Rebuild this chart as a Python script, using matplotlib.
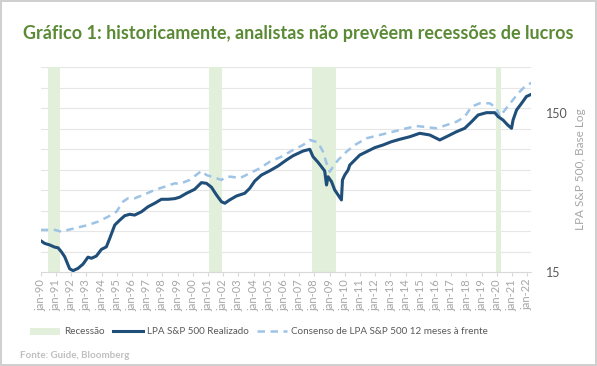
import matplotlib
matplotlib.use("Agg")
import matplotlib.pyplot as plt
from matplotlib.patches import Patch
from matplotlib.lines import Line2D
import numpy as np

plt.rcParams["font.family"] = ["Lato", "DejaVu Sans"]

# recessions (start, end) in decimal years
recessions = [(1990.5, 1991.25), (2001.05, 2001.9), (2007.85, 2009.45), (2019.95, 2020.27)]

# realized EPS (LPA S&P 500 Realizado)
real_x = [1990.0, 1990.26, 1990.59, 1990.92, 1991.14, 1991.36, 1991.58, 1991.80, 1991.91, 1992.13,
          1992.45, 1992.78, 1993.11, 1993.34, 1993.66, 1993.99, 1994.32, 1994.54, 1994.87, 1995.20,
          1995.53, 1995.86, 1996.18, 1996.63, 1997.06, 1997.50, 1997.94, 1998.38, 1998.82, 1999.14,
          1999.59, 2000.13, 2000.57, 2000.90, 2001.23, 2001.56, 2001.89, 2002.11, 2002.43, 2002.88,
          2003.42, 2003.75, 2004.08, 2004.52, 2005.07, 2005.61, 2006.16, 2006.60, 2007.26, 2007.70,
          2007.91, 2008.24, 2008.47, 2008.68, 2008.80, 2008.90, 2009.13, 2009.34, 2009.56, 2009.78,
          2009.85, 2010.0, 2010.22, 2010.33, 2010.66, 2010.99, 2011.43, 2011.97, 2012.52, 2013.07,
          2013.62, 2014.28, 2014.93, 2015.59, 2016.25, 2016.69, 2017.35, 2017.89, 2018.34, 2018.77,
          2019.32, 2019.87, 2020.09, 2020.41, 2020.72, 2020.97, 2021.07, 2021.30, 2021.63, 2021.95,
          2022.24]
real_y = [23.6, 22.7, 22.2, 21.5, 21.3, 20.1, 18.7, 16.6, 15.7, 15.3,
          15.8, 16.8, 18.6, 18.3, 18.9, 20.8, 21.6, 24.4, 29.6, 31.8,
          33.9, 34.6, 34.2, 35.9, 38.6, 40.6, 43.0, 43.0, 43.4, 44.3,
          46.9, 49.7, 54.7, 54.2, 51.2, 45.8, 41.5, 40.6, 42.6, 45.1,
          46.9, 50.4, 56.0, 61.1, 65.0, 69.6, 75.9, 80.8, 86.5, 88.7,
          79.7, 73.5, 68.9, 64.8, 52.9, 59.6, 55.5, 49.2, 45.8, 42.6,
          56.9, 61.1, 65.7, 70.6, 75.9, 81.6, 85.6, 90.8, 94.4, 99.0,
          102.5, 106.4, 111.8, 109.1, 101.5, 106.4, 114.4, 120.2, 132.2, 145.7,
          150.7, 150.7, 142.2, 135.5, 126.0, 120.2, 135.5, 156.6, 172.6, 190.5,
          196.0]

# 12m forward consensus
cons_x = [1990.0, 1990.48, 1990.92, 1991.36, 1991.80, 1992.45, 1993.11, 1993.77, 1994.43, 1994.98,
          1995.41, 1995.74, 1996.18, 1996.84, 1997.50, 1998.16, 1998.82, 1999.14, 1999.80, 2000.57,
          2000.90, 2001.56, 2001.89, 2002.22, 2002.55, 2003.09, 2003.75, 2004.41, 2005.07, 2005.84,
          2006.60, 2007.26, 2007.70, 2008.24, 2008.57, 2008.80, 2009.01, 2009.23, 2009.56, 2010.11,
          2010.66, 2011.43, 2012.30, 2013.18, 2014.06, 2014.72, 2015.15, 2016.03, 2016.69, 2017.35,
          2017.89, 2018.34, 2018.88, 2019.54, 2019.98, 2020.20, 2020.53, 2020.97, 2021.40, 2021.84,
          2022.28]
cons_y = [27.6, 27.6, 27.6, 26.9, 27.6, 28.6, 29.6, 31.1, 33.4, 35.9,
          41.5, 43.6, 43.6, 46.2, 49.2, 51.6, 54.2, 53.7, 56.9, 64.8,
          61.1, 58.3, 56.9, 59.6, 59.6, 58.3, 62.7, 67.3, 74.1, 79.7,
          87.8, 94.4, 101.5, 98.1, 85.6, 72.4, 64.1, 68.9, 75.9, 85.6,
          94.4, 104.0, 109.1, 114.4, 120.2, 124.2, 123.0, 120.2, 126.0, 132.2,
          142.2, 164.4, 172.6, 172.6, 160.6, 142.2, 156.6, 176.7, 199.5, 219.6,
          232.6]

years = list(range(1990, 2023))
year_labels = ["jan-%02d" % (y % 100) for y in years]

fig = plt.figure(figsize=(5.97, 3.66), dpi=100)
fig.patch.set_edgecolor("#D0D0D0")
fig.patch.set_linewidth(1.5)
ax = fig.add_axes([40.7/597, 1-272/366, (531-40.7)/597, (272-67)/366])

ax.set_yscale("log")
ymin, ymax = 15, 292
ax.set_ylim(ymin, ymax)
ax.set_xlim(1990, 2022.25)

for y in np.geomspace(ymin, ymax, 11)[1:]:
    ax.axhline(y, color="#E6E6E6", lw=0.8, zorder=0)

for s, e in recessions:
    ax.axvspan(s, e, color="#E2EFDA", lw=0, zorder=1)

ax.plot(cons_x, cons_y, color="#9DC3E6", lw=1.8, dashes=(3, 2.2), zorder=2)
ax.plot(real_x, real_y, color="#1F4E79", lw=2.2, zorder=3)

ax.yaxis.tick_right()
ax.yaxis.set_label_position("right")
ax.set_yticks([15, 150])
ax.set_yticklabels(["15", "150"])
ax.minorticks_off()
ax.tick_params(axis="y", length=0, pad=11, labelsize=9, labelcolor="#595959")
ax.set_ylabel("LPA S&P 500, Base Log", color="#A6A6A6", fontsize=8.5, labelpad=5)

ax.set_xticks(years)
ax.set_xticklabels(year_labels, rotation=90, fontsize=8, color="#A6A6A6")
ax.tick_params(axis="x", length=3, color="#D9D9D9", pad=2)

for sp in ["top", "left", "right"]:
    ax.spines[sp].set_visible(False)
ax.spines["bottom"].set_color("#D9D9D9")

fig.text(0.5, 1-33/366, "Gráfico 1: historicamente, analistas não prevêem recessões de lucros",
         ha="center", va="center", fontsize=13.0, fontweight="bold", color="#5B8A35")

handles = [Patch(facecolor="#E2EFDA", edgecolor="none"),
           Line2D([], [], color="#1F4E79", lw=2.2),
           Line2D([], [], color="#9DC3E6", lw=1.8, dashes=(3, 2.2))]
labels = ["Recessão", "LPA S&P 500 Realizado", "Consenso de LPA S&P 500 12 meses à frente"]
fig.legend(handles, labels, loc="center", bbox_to_anchor=(259/597, 1-332/366), ncol=3,
           frameon=False, fontsize=7.1, labelcolor="#595959", handlelength=3.0,
           handletextpad=0.4, columnspacing=0.9, handleheight=0.7)

fig.text(20/597, 1-355/366, "Fonte: Guide, Bloomberg", ha="left", va="center",
         fontsize=7, fontweight="bold", color="#BFBFBF")

fig.savefig("out.png", dpi=100)
